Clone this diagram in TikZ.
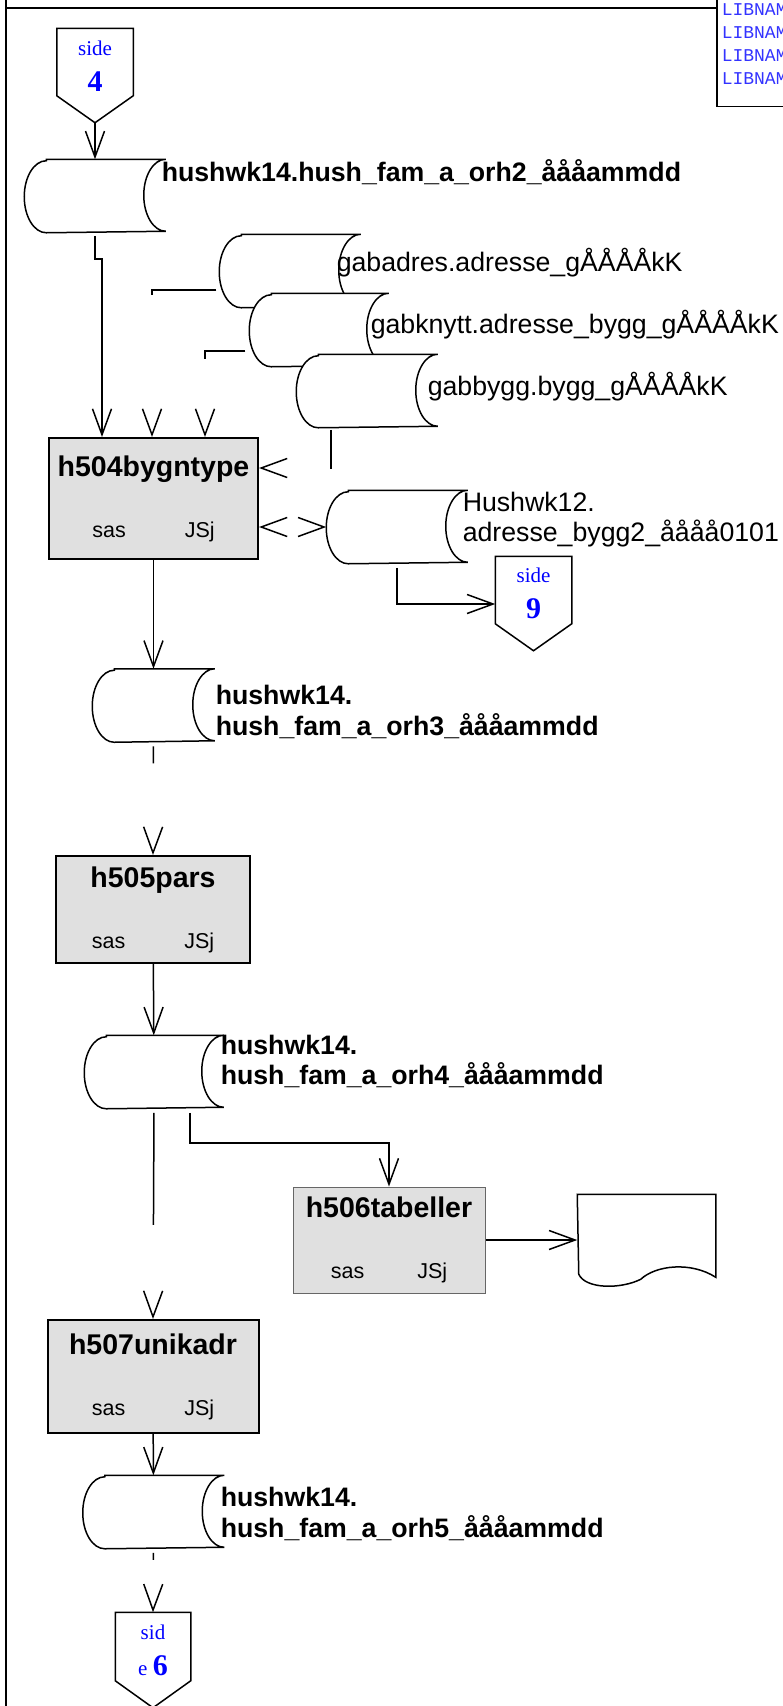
\documentclass[tikz,border=0pt]{standalone}
\usepackage{fontspec}
\setmainfont{Liberation Sans}
\newfontfamily\sidefont{Liberation Serif}
\newfontfamily\libfont{Liberation Mono}
\usepackage{tikz}
\usetikzlibrary{arrows.meta}
\definecolor{progfill}{RGB}{224,224,224}
\definecolor{libblue}{RGB}{51,51,255}

\begin{document}
\begin{tikzpicture}[line width=1.5pt, >={Straight Barb[length=26pt,width=19pt]},
  prog/.style={draw, line width=2pt, fill=progfill, align=center, inner sep=0pt, font=\fontsize{21.5}{26}\selectfont},
  store/.style={minimum width=140pt, minimum height=72pt, inner sep=0pt, append after command={([xshift=22pt]\tikzlastnode.north west) -- (\tikzlastnode.north east) arc[start angle=90, end angle=270, x radius=22pt, y radius=36pt] -- ([xshift=22pt]\tikzlastnode.south west) arc[start angle=270, end angle=90, x radius=22pt, y radius=36pt] -- cycle}},
  offpage/.style={minimum width=75pt, minimum height=66pt, inner sep=0pt, align=center, text=blue, font=\sidefont\fontsize{21}{25}\selectfont, append after command={(\tikzlastnode.north west) -- (\tikzlastnode.north east) -- (\tikzlastnode.south east) -- ([yshift=-27pt]\tikzlastnode.south) -- (\tikzlastnode.south west) -- cycle}},
  docshape/.style={minimum width=137pt, minimum height=90pt, inner sep=0pt, append after command={(\tikzlastnode.north west) -- (\tikzlastnode.north east) -- ++(0,-83pt) .. controls +(-25pt,16pt) and +(15pt,14pt) .. ++(-75pt,-2pt) .. controls +(-20pt,-10pt) and +(7pt,-15pt) .. ++(-62pt,5pt) -- cycle}},
  lbl/.style={anchor=base west, inner sep=0pt, align=left, font=\fontsize{26.7}{30.5}\selectfont},
  boldlbl/.style={font=\fontsize{26.7}{30.5}\selectfont\bfseries},
  broken/.style={dash pattern=on #1 off 3000pt}]
  \useasboundingbox (0pt, 0pt) rectangle (783pt, -1706pt);
  % frame
  \draw[line width=2pt] (6pt, 10pt) -- (6pt, -1720pt);
  \draw[line width=2pt] (6pt, -7.5pt) -- (716pt, -7.5pt);
  \draw (716.0pt, -107.0pt)node[draw, anchor=south west, minimum width=120pt, minimum height=130pt](libnam){};
  \draw (721.0pt, -44.0pt)node[anchor=west, align=left, inner sep=0pt, text=libblue, font=\libfont\fontsize{18}{22.8}\selectfont](libtxt){LIBNAM\\LIBNAM\\LIBNAM\\LIBNAM};
  % pages
  \draw (95.0pt, -62.0pt)node[offpage](side4){\rule{0pt}{22pt}side\\[11pt]{\fontsize{30}{30}\selectfont\bfseries 4}};
  \draw (533.5pt, -590.0pt)node[offpage](side9){\rule{0pt}{22pt}side\\[11pt]{\fontsize{30}{30}\selectfont\bfseries 9}};
  \draw (153.0pt, -1646.5pt)node[offpage, minimum width=74pt, minimum height=67pt](side6){\rule{0pt}{22pt}sid\\[11pt]e {\fontsize{30}{30}\selectfont\bfseries 6}};
  % data sets
  \draw[fill=white] (95.0pt, -196.0pt)node[store](orh2){};
  \draw[fill=white] (290.0pt, -271.0pt)node[store](gabadres){};
  \draw[fill=white] (319.0pt, -330.0pt)node[store, minimum width=138pt](gabknytt){};
  \draw[fill=white] (367.0pt, -391.0pt)node[store](gabbygg){};
  \draw[fill=white] (397.0pt, -527.0pt)node[store](hushwk12){};
  \draw[fill=white] (153.5pt, -705.5pt)node[store, minimum width=121pt](orh3){};
  \draw[fill=white] (154.0pt, -1072.0pt)node[store, minimum width=138pt](orh4){};
  \draw[fill=white] (153.5pt, -1512.0pt)node[store](orh5){};
  \draw (161.0pt, -181.7pt)node[lbl, boldlbl](orh2txt){hushwk14.hush\_fam\_a\_orh2\_åååammdd};
  \draw (336.0pt, -271.0pt)node[lbl](gabadrestxt){gabadres.adresse\_gÅÅÅÅkK};
  \draw (370.0pt, -333.0pt)node[lbl](gabknytttxt){gabknytt.adresse\_bygg\_gÅÅÅÅkK};
  \draw (427.0pt, -395.5pt)node[lbl](gabbyggtxt){gabbygg.bygg\_gÅÅÅÅkK};
  \draw (462.0pt, -541.7pt)node[lbl](hushwk12txt){Hushwk12.\\adresse\_bygg2\_åååå0101};
  \draw (215.0pt, -735.0pt)node[lbl, boldlbl](orh3txt){hushwk14.\\hush\_fam\_a\_orh3\_åååammdd};
  \draw (220.0pt, -1084.5pt)node[lbl, boldlbl](orh4txt){hushwk14.\\hush\_fam\_a\_orh4\_åååammdd};
  \draw (220.0pt, -1537.3pt)node[lbl, boldlbl](orh5txt){hushwk14.\\hush\_fam\_a\_orh5\_åååammdd};
  % programs
  \draw (153.5pt, -498.5pt)node[prog, minimum width=209pt, minimum height=121pt](h504){{\fontsize{28.5}{32}\selectfont\bfseries h504bygntype}\\[35pt]sas\hspace{59pt}JSj};
  \draw (153.0pt, -909.5pt)node[prog, minimum width=194pt, minimum height=107pt](h505){{\fontsize{28.5}{32}\selectfont\bfseries h505pars}\\[35pt]sas\hspace{59pt}JSj};
  \draw (389.0pt, -1240.0pt)node[prog, minimum width=192pt, minimum height=106pt, draw=black!60, line width=1pt](h506){{\fontsize{28.5}{32}\selectfont\bfseries h506tabeller}\\[35pt]sas\hspace{53pt}JSj};
  \draw (153.0pt, -1376.5pt)node[prog, minimum width=211pt, minimum height=113pt](h507){{\fontsize{28.5}{32}\selectfont\bfseries h507unikadr}\\[35pt]sas\hspace{59pt}JSj};
  \draw (646.5pt, -1240.0pt)node[docshape](tabout){};
  % flow
  \path[->] ([yshift=-27pt]side4.south) edge (orh2);
  \draw[->, shorten <=3pt] (orh2.south) -- ++(0,-26pt) -| ([xshift=-51.5pt]h504.north);
  \draw[->, shorten <=3pt, broken=69pt] ([yshift=-19pt]gabadres.west) -| ([xshift=-1.5pt]h504.north);
  \draw[->, shorten <=4pt, broken=48pt] ([yshift=-21pt]gabknytt.west) -| ([xshift=51.5pt]h504.north);
  \draw[->, shorten <=2pt, broken=39pt] ([xshift=-36pt]gabbygg.south) |- ([yshift=30.5pt]h504.east);
  \draw[<->, broken=0pt] ([yshift=-28.5pt]h504.east) -- (hushwk12.west);
  \draw[->, shorten <=4pt] (hushwk12.south) |- ([yshift=-14pt]side9.west);
  \path[->] (h504) edge (orh3);
  \draw[->, shorten <=4pt, broken=17pt] (orh3.south) -- (h505.north);
  \path[->] (h505) edge (orh4);
  \draw[->, shorten <=4pt] ([xshift=36pt]orh4.south) -- ++(0,-34pt) -| (h506.north);
  \draw[->, shorten <=4pt, broken=112pt] (orh4.south) -- (h507.north);
  \path[->] (h506) edge (tabout);
  \path[->] (h507) edge (orh5);
  \draw[->, shorten <=4pt, broken=7pt] (orh5.south) -- (side6.north);
\end{tikzpicture}
\end{document}
